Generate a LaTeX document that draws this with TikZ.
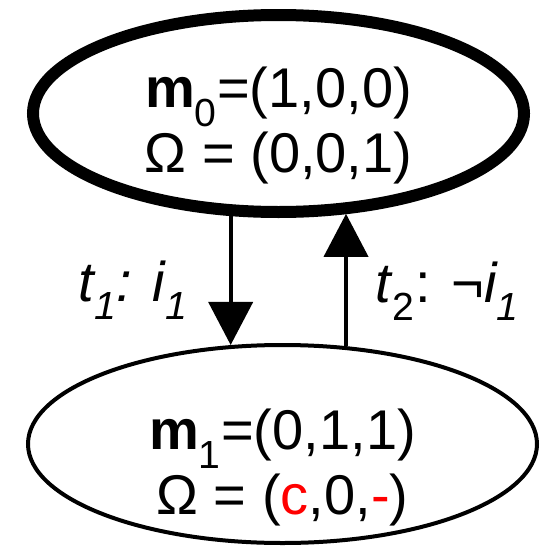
\documentclass[tikz,border=0pt]{standalone}
\usepackage{fontspec}
\setmainfont{Liberation Sans}
\usetikzlibrary{shapes.geometric,arrows.meta}
\tikzset{
	estado/.style={draw,ellipse,inner sep=0pt},
	marcado/.style={align=center,font=\fontsize{56}{65}\selectfont},
	etiqueta/.style={anchor=base,font=\fontsize{56}{65}\selectfont},
	flecha/.style={line width=4pt,-{Triangle[length=43pt,width=44pt]}}
}
\begin{document}
\begin{tikzpicture}[x=1pt,y=-1pt]
				\useasboundingbox (0,0) rectangle (549,546);
				
				% Estados
				\node[estado,line width=12pt,minimum width=491pt,minimum height=197pt] (m0) at (278.5,113.5) {};   % inicial
				\node[estado,line width=4pt,minimum width=509pt,minimum height=198pt] (m1) at (282.5,444) {};
				
				% Marcados
				\node[marcado] (m0txt) at (278.5,126) {\textbf{m}\textsubscript{0}=(1,0,0)\\Ω = (0,0,1)};
				\node[marcado] (m1txt) at (282.5,468) {\textbf{m}\textsubscript{1}=(0,1,1)\\Ω = (\textcolor{red}{c},0,\textcolor{red}{-})};
				
				% Transiciones
				\draw[flecha] (m0.245) -- (m0.245 |- m1.117);
				\draw[flecha] (m1.57) -- (m1.57 |- m0.305);
				
				% Etiquetas de las transiciones
				\node[etiqueta] (t1) at (133,301) {\textit{t\textsubscript{1}: i\textsubscript{1}}};
				\node[etiqueta] (t2) at (447,302) {\textit{t}\textsubscript{2}: ¬\textit{i\textsubscript{1}}};
\end{tikzpicture}
\end{document}
